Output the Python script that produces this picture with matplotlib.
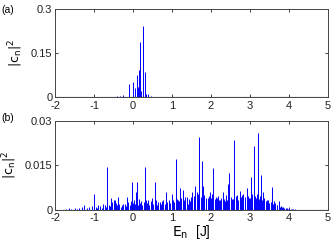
import matplotlib
matplotlib.use('Agg')
import matplotlib.pyplot as plt

plt.rcParams['font.family'] = ['Liberation Sans', 'DejaVu Sans']

# (a) overlap weights, narrow spectrum
E_a = [-0.52, -0.45, -0.42, -0.33, -0.25, -0.11, -0.01, 0.04, 0.095, 0.12,
       0.146, 0.18, 0.21, 0.248, 0.30, 0.34, 0.39, 0.45, 0.5]
c_a = [0.002, 0.002, 0.003, 0.004, 0.006, 0.044, 0.051, 0.031, 0.075, 0.035,
       0.093, 0.186, 0.02, 0.243, 0.084, 0.01, 0.011, 0.003, 0.002]

# (b) the taller peaks
E_b_peaks = [-1.25, -1.12, -0.99, -0.89, -0.76, -0.675, -0.56, -0.5, -0.46, -0.38,
             -0.26, -0.15, -0.03, 0.07, 0.11, 0.16, 0.31, 0.33, 0.48, 0.55,
             0.69, 0.78, 0.85, 0.92, 0.99, 1.09, 1.14, 1.21, 1.27, 1.38,
             1.40, 1.52, 1.59, 1.63, 1.70, 1.76, 1.80, 1.91, 1.97, 2.06,
             2.15, 2.23, 2.30, 2.36, 2.44, 2.47, 2.53, 2.60, 2.66, 2.73,
             2.83, 2.91, 2.97, 3.02, 3.09, 3.21, 3.28, 3.34, 3.43, 3.56,
             3.62, 3.73, 3.81, 3.85, 4.01, 4.07]
c_b_peaks = [0.0015, 0.001, 0.0054, 0.0015, 0.002, 0.0146, 0.0039, 0.0035, 0.0034, 0.0042,
             0.002, 0.0045, 0.0093, 0.0061, 0.0094, 0.0036, 0.0146, 0.0035, 0.004, 0.0093,
             0.0025, 0.0035, 0.0059, 0.0035, 0.0053, 0.0171, 0.0035, 0.0075, 0.0068, 0.0045,
             0.0021, 0.006, 0.0081, 0.006, 0.0247, 0.0165, 0.0081, 0.004, 0.006, 0.014,
             0.004, 0.0035, 0.0062, 0.003, 0.0088, 0.0126, 0.0038, 0.0236, 0.005, 0.0063,
             0.0055, 0.0075, 0.004, 0.011, 0.0216, 0.0258, 0.0118, 0.0061, 0.0035, 0.0076,
             0.003, 0.003, 0.001, 0.0009, 0.0005, 0.0003]

# (b) dense low background
E_b_bg = [-1.72, -1.65, -1.58, -1.5, -1.43, -1.38, -1.32, -1.18, -1.05,
          -0.95, -0.92, -0.84, -0.8, -0.72, -0.7, -0.62, -0.6, -0.53, -0.48,
          -0.43, -0.41, -0.35, -0.31, -0.28, -0.22, -0.19, -0.12, -0.08, -0.05,
          0.0, 0.02, 0.05, 0.09, 0.13, 0.18, 0.21, 0.24, 0.27, 0.35,
          0.38, 0.42, 0.45, 0.51, 0.58, 0.61, 0.64, 0.72, 0.75, 0.81,
          0.88, 0.95, 1.02, 1.05, 1.12, 1.17, 1.24, 1.31, 1.34, 1.43,
          1.46, 1.49, 1.55, 1.57, 1.66, 1.68, 1.73, 1.78, 1.83, 1.86,
          1.88, 1.94, 2.0, 2.03, 2.09, 2.12, 2.18, 2.2, 2.26, 2.33,
          2.39, 2.42, 2.5, 2.56, 2.63, 2.69, 2.76, 2.79, 2.86, 2.88,
          2.94, 3.0, 3.04, 3.06, 3.12, 3.15, 3.18, 3.24, 3.26, 3.31,
          3.37, 3.4, 3.46, 3.49, 3.53, 3.59, 3.65, 3.68, 3.7, 3.76,
          3.79, 3.88, 3.92, 3.95, 3.98, 4.05, 4.1, 4.15, 4.22, 4.3]
c_b_bg = [0.0004, 0.0006, 0.0003, 0.0005, 0.0004, 0.0007, 0.0009, 0.0008, 0.0012,
          0.0009, 0.0006, 0.0012, 0.0008, 0.0015, 0.001, 0.0018, 0.0012, 0.0028, 0.002,
          0.0024, 0.0015, 0.0019, 0.0011, 0.0016, 0.0021, 0.0012, 0.0026, 0.0017, 0.003,
          0.0022, 0.0035, 0.0019, 0.0028, 0.0015, 0.0024, 0.0031, 0.0018, 0.0027, 0.0022,
          0.0033, 0.0016, 0.0029, 0.0021, 0.0034, 0.0018, 0.0026, 0.0021, 0.003, 0.0019,
          0.0027, 0.0024, 0.0033, 0.0028, 0.0036, 0.0031, 0.0039, 0.0034, 0.0042, 0.0038,
          0.0031, 0.0045, 0.004, 0.0048, 0.0052, 0.0038, 0.0044, 0.0036, 0.0049, 0.0041,
          0.0033, 0.0046, 0.0039, 0.0052, 0.0036, 0.0043, 0.0048, 0.0035, 0.0041, 0.0037,
          0.0049, 0.0034, 0.0045, 0.0038, 0.0047, 0.0035, 0.0042, 0.0051, 0.0037, 0.0044,
          0.0048, 0.0039, 0.0052, 0.0036, 0.0047, 0.0041, 0.0055, 0.0038, 0.0046, 0.0034,
          0.0041, 0.0029, 0.0033, 0.0022, 0.0028, 0.0019, 0.0024, 0.0015, 0.0018, 0.0011,
          0.0013, 0.0008, 0.0006, 0.0007, 0.0004, 0.0003, 0.0002, 0.0002, 0.0001, 0.0001]

xticks = [-2, -1, 0, 1, 2, 3, 4, 5]

fig = plt.figure(figsize=(3.32, 2.49), dpi=100)
ax1 = fig.add_axes([0.166, 0.610, 0.822, 0.354])
ax2 = fig.add_axes([0.166, 0.157, 0.822, 0.357])

ax1.vlines(E_a, 0, c_a, color='blue', lw=0.7)
ax2.vlines(E_b_bg, 0, c_b_bg, color='blue', lw=0.7)
ax2.vlines(E_b_peaks, 0, c_b_peaks, color='blue', lw=0.7)

for ax, ymax, yt, ytl in [(ax1, 0.3, [0, 0.15, 0.3], ['0', '0.15', '0.3']),
                          (ax2, 0.03, [0, 0.015, 0.03], ['0', '0.015', '0.03'])]:
    ax.axhline(0, color='navy', lw=0.8)
    ax.set_xlim(-2, 5)
    ax.set_ylim(0, ymax)
    ax.set_xticks(xticks)
    ax.set_xticklabels([str(t) for t in xticks])
    ax.set_yticks(yt)
    ax.set_yticklabels(ytl)
    ax.tick_params(direction='in', top=True, right=True, length=2.5, width=0.6,
                   labelsize=8, colors='#222222')
    ax.tick_params(axis='x', pad=2.5)
    ax.tick_params(axis='y', pad=2)
    for s in ax.spines.values():
        s.set_linewidth(0.7)
        s.set_color('#444444')
    ax.set_ylabel(r'$|\mathrm{c}_\mathrm{n}|^2$', fontsize=9, labelpad=4)

ax2.set_xlabel(r'$\mathrm{E}_\mathrm{n}$  [J]', fontsize=10, labelpad=0)

fig.text(0.003, 0.96, '(a)', fontsize=7.5, va='center')
fig.text(0.003, 0.525, '(b)', fontsize=7.5, va='center')

fig.savefig('out.png', dpi=100)
